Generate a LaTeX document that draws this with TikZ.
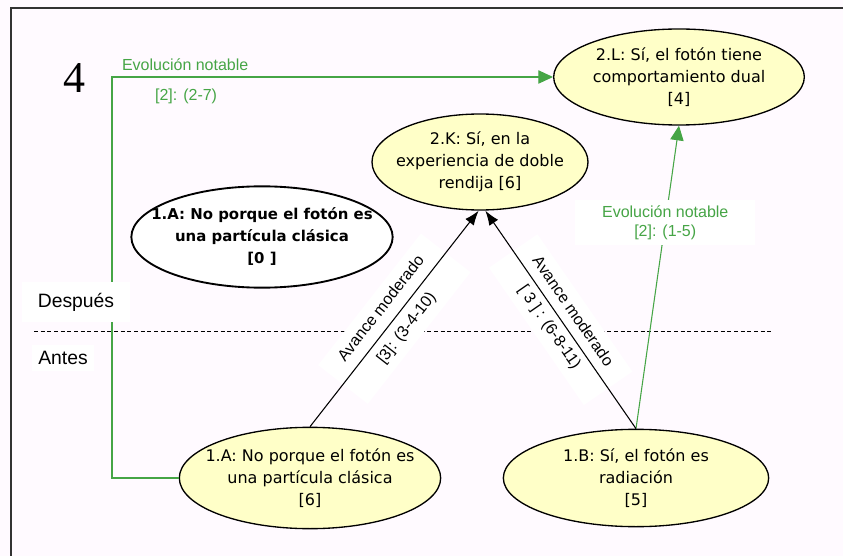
\documentclass[tikz,border=0pt]{standalone}
\usepackage{fontspec}
\setmainfont{Liberation Sans}
\newfontfamily\comicfont{DejaVu Sans}
\newfontfamily\timesfont{Liberation Serif}
\usetikzlibrary{arrows.meta,shapes.geometric,calc}
\definecolor{bgpink}{RGB}{255,250,255}
\definecolor{ellyellow}{RGB}{255,255,200}
\definecolor{evogreen}{RGB}{70,165,70}

\begin{document}
\begin{tikzpicture}[x=0.75pt, y=-0.75pt, every node/.style={font=\fontsize{12}{14}\selectfont},
			idea/.style={draw, ellipse, line width=1pt, fill=ellyellow, inner xsep=-25pt, inner ysep=0pt,
				align=center, font=\comicfont\fontsize{12}{16.5}\selectfont},
			avance/.style={-{Latex[length=11pt,width=8pt]}, line width=0.8pt},
			evol/.style={-{Triangle[length=11pt,width=10pt]}, evogreen, line width=0.8pt},
			tag/.style={fill=white, align=center}]
			\useasboundingbox (0,0) rectangle (843,556);
			\fill[bgpink] (0,0) rectangle (843,556);
			\draw[line width=1.2pt, black!80] (11,556) -- (11,8) -- (843,8);
			\draw[dash pattern=on 3pt off 2pt, line width=0.6pt] (34,331) -- (773,331);
			% concepciones
			\node[idea, minimum width=188pt, minimum height=72pt] (L2) at (679,77) {2.L: Sí, el fotón tiene\\comportamiento dual\\{[4]}};
			\node[idea, minimum width=162pt, minimum height=72pt] (K2) at (480,162) {2.K: Sí, en la\\experiencia de doble\\rendija [6]};
			\node[idea, fill=white, line width=1.4pt, minimum width=196pt, minimum height=76pt,
				font=\comicfont\bfseries\fontsize{11.2}{16.5}\selectfont] (A0) at (262,237) {1.A: No porque el fotón es\\una partícula clásica\\{[0 ]}};
			\node[idea, minimum width=196pt, minimum height=76pt] (A1) at (310,478) {1.A: No porque el fotón es\\una partícula clásica\\{[6]}};
			\node[idea, minimum width=199pt, minimum height=73pt] (B1) at (636,478) {1.B: Sí, el fotón es\\radiación\\{[5]}};
			\node[font=\timesfont\fontsize{33}{33}\selectfont] (num) at (74,78) {4};
			% evoluciones
			\coordinate (gbend) at (112,77);
			\draw[evol] (A1.west) -| (gbend) -- node[pos=0.166, above=1pt, text=evogreen] {Evolución notable}
				node[pos=0.168, below=5pt, text=evogreen] {[2]: (2-7)} (L2.west);
			\draw[evol] (B1.north) -- node[tag, pos=0.68, text=evogreen, inner xsep=20pt, inner ysep=4pt] {Evolución notable\\{[2]}: (1-5)} (L2.south);
			\draw[avance] (A1.north) -- node[tag, behind path, sloped, inner xsep=14pt, inner ysep=6pt] {Avance moderado\\[10pt]{[3]}: (3-4-10)} ([xshift=-1pt]K2.south);
			\draw[avance] (B1.north) -- node[tag, behind path, sloped, inner xsep=14pt, inner ysep=6pt] {Avance moderado\\[7pt]{[ 3 ] : (6-8-11)}} ([xshift=4pt]K2.south);
			\node[fill=white, inner xsep=12pt, inner ysep=8pt, font=\fontsize{14.5}{17}\selectfont] (despues) at (76,302) {Después};
			\node[fill=white, inner sep=5pt, font=\fontsize{14.5}{17}\selectfont] (antes) at (63,358) {Antes};
		\end{tikzpicture}
\end{document}
